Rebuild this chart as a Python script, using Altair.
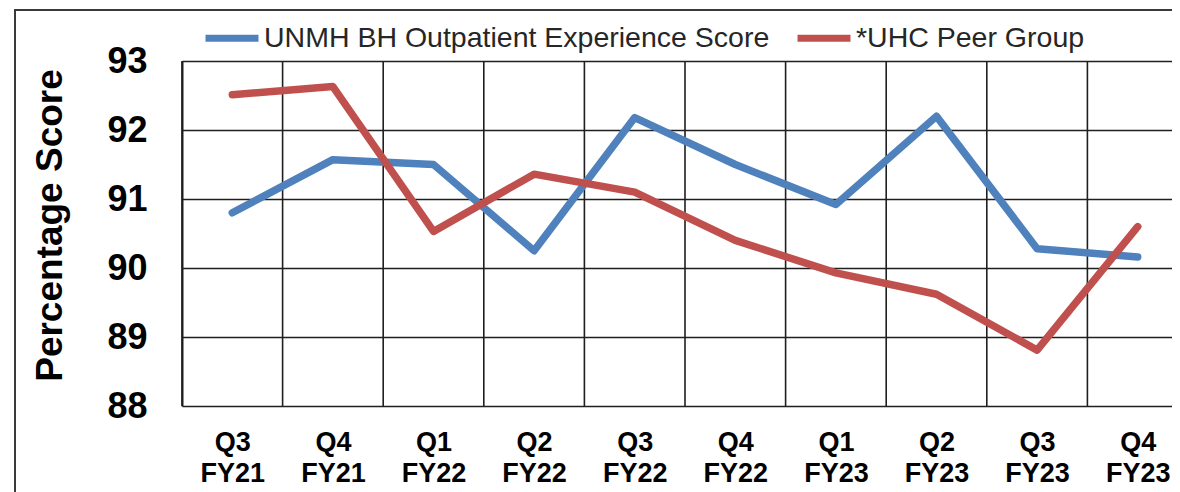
import altair as alt
import pandas as pd

categories = ["Q3 FY21", "Q4 FY21", "Q1 FY22", "Q2 FY22", "Q3 FY22",
              "Q4 FY22", "Q1 FY23", "Q2 FY23", "Q3 FY23", "Q4 FY23"]
series_names = ["UNMH BH Outpatient Experience Score", "*UHC Peer Group"]
series_colors = ["#4F81BD", "#C0504D"]
unmh_scores = [90.80, 91.57, 91.50, 90.25, 92.18, 91.50, 90.92, 92.20, 90.28, 90.16]
uhc_scores = [92.51, 92.63, 90.53, 91.36, 91.10, 90.40, 89.93, 89.62, 88.81, 90.60]
y_ticks = [88, 89, 90, 91, 92, 93]

rows = []
for name, vals in zip(series_names, [unmh_scores, uhc_scores]):
    for i, (c, v) in enumerate(zip(categories, vals)):
        rows.append({"period": c, "idx": i, "score": v, "series": name})
df = pd.DataFrame(rows)
bounds = pd.DataFrame({"period": categories, "idx": list(range(len(categories)))})

FONT = "Liberation Sans"
GRID = "#1f1f1f"
PLOT_W = 990
STEP = 100.6  # pixel width of one category slot (last slot runs off the picture)

cat_js = "[" + ",".join("'" + c + "'" for c in categories) + "]"

x_scale = alt.Scale(domain=[-0.5, -0.5 + PLOT_W / STEP], nice=False, zero=False)
x_axis = alt.Axis(
    title=None,
    values=list(range(len(categories))),
    grid=False,
    ticks=False,
    tickSize=0,
    domain=False,
    labelExpr="split(" + cat_js + "[datum.value], ' ')",
    labelFont=FONT,
    labelFontSize=27,
    labelFontWeight="bold",
    labelColor="#000000",
    labelLineHeight=31,
    labelPadding=23,
    labelBaseline="top",
    labelAlign="center",
    labelAngle=0,
    labelFlush=False,
    labelOverlap=False,
)

y_scale = alt.Scale(domain=[88, 93], nice=False, zero=False)
y_axis = alt.Axis(
    values=y_ticks,
    format=".0f",
    title="Percentage Score",
    titleFont=FONT,
    titleFontSize=37,
    titleFontWeight="bold",
    titleColor="#000000",
    titleAngle=270,
    titleX=-132,
    titleY=164,
    titleAlign="center",
    titleBaseline="middle",
    grid=True,
    gridColor=GRID,
    gridWidth=1.6,
    ticks=False,
    tickSize=0,
    domain=True,
    domainColor=GRID,
    domainWidth=2,
    labelFont=FONT,
    labelFontSize=36,
    labelFontWeight="bold",
    labelColor="#000000",
    labelPadding=35,
)

vgrid = alt.Chart(bounds).transform_calculate(
    edge="datum.idx - 0.5"
).mark_rule(color=GRID, strokeWidth=1.6).encode(
    x=alt.X("edge:Q", scale=x_scale, axis=x_axis),
    y=alt.datum(93, scale=y_scale, axis=y_axis),
    y2=alt.datum(88),
)

lines = alt.Chart(df).mark_line(strokeWidth=7.5, strokeCap="round", strokeJoin="round").encode(
    x=alt.X("idx:Q", scale=x_scale, axis=x_axis),
    y=alt.Y("score:Q", scale=y_scale, axis=y_axis),
    color=alt.Color(
        "series:N",
        scale=alt.Scale(domain=series_names, range=series_colors),
        legend=alt.Legend(
            title=None,
            orient="none",
            direction="horizontal",
            legendX=20,
            legendY=-53,
            symbolType="stroke",
            symbolSize=2809,
            symbolStrokeWidth=7,
            labelOffset=2,
            columnPadding=13,
            labelFont=FONT,
            labelFontSize=28.5,
            labelColor="#262626",
            labelLimit=1000,
        ),
    ),
    order=alt.Order("idx:Q"),
)

frame_top = alt.Chart(bounds).mark_rule(color="#3a3a3a", strokeWidth=2).encode(
    x=alt.value(-168), x2=alt.value(PLOT_W), y=alt.value(-51), y2=alt.value(-51)
)
frame_left = alt.Chart(bounds).mark_rule(color="#3a3a3a", strokeWidth=2).encode(
    x=alt.value(-167), x2=alt.value(-167), y=alt.value(-51), y2=alt.value(431)
)

chart = alt.layer(vgrid, lines, frame_top, frame_left).properties(
    width=PLOT_W,
    height=345,
    autosize=alt.AutoSizeParams(type="none"),
    padding={"left": 174, "top": 53, "right": 0, "bottom": 86},
).configure_view(stroke="transparent", strokeWidth=0, clip=False).configure(background="white")

chart.save("out.html", embed_options={"renderer": "svg", "actions": False})
